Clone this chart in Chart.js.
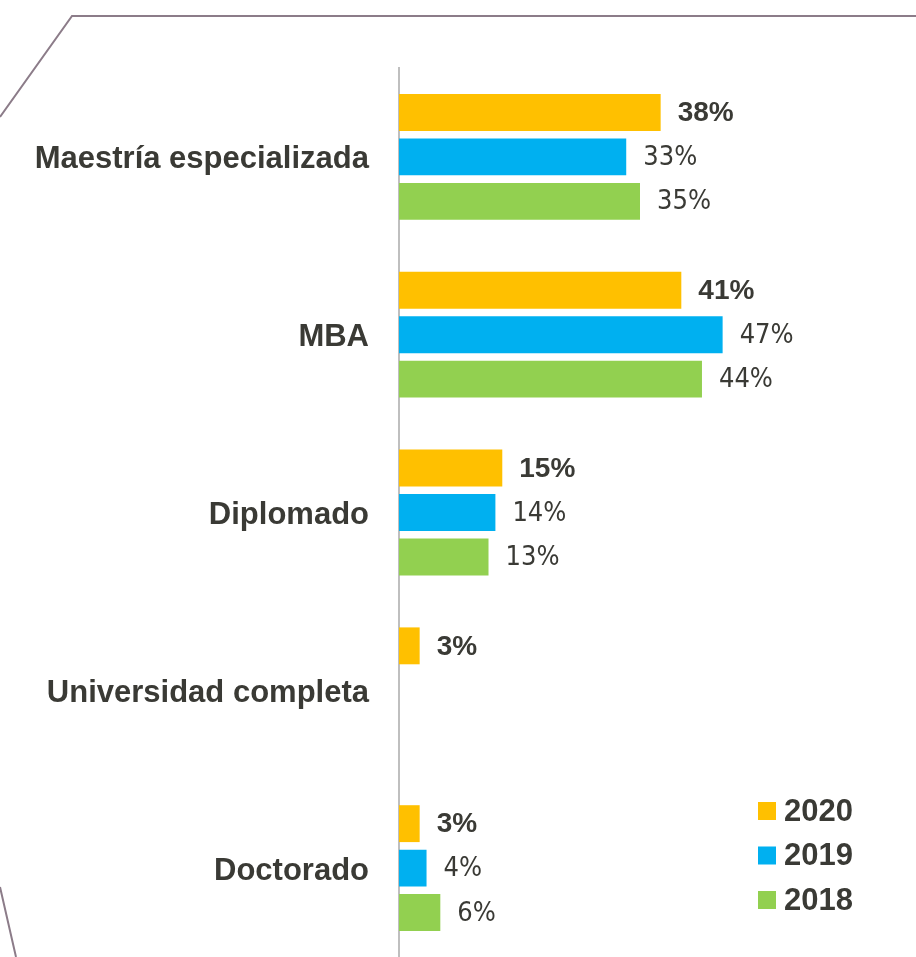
<!DOCTYPE html>
<html>
<head>
<meta charset="utf-8">
<script src="https://cdn.jsdelivr.net/npm/chart.js@4/dist/chart.umd.min.js"></script>
<style>
html,body{margin:0;padding:0;background:#fff;}
#wrap{width:916px;height:957px;position:relative;}
</style>
</head>
<body>
<div id="wrap"><canvas id="c" width="916" height="957"></canvas></div>
<script>
const categories = ["Maestría especializada", "MBA", "Diplomado", "Universidad completa", "Doctorado"];
const seriesNames = ["2020", "2019", "2018"];
const values2020 = [38, 41, 15, 3, 3];
const values2019 = [33, 47, 14, null, 4];
const values2018 = [35, 44, 13, null, 6];
const colors = ["#FFC000", "#00B0F0", "#92D050"];
const textColor = "#3a3a35";

const framePlugin = {
  id: 'frame',
  beforeDraw(chart) {
    const ctx = chart.ctx;
    ctx.save();
    ctx.strokeStyle = "#8c7c89";
    ctx.lineWidth = 2;
    ctx.beginPath();
    ctx.moveTo(0, 117);
    ctx.lineTo(72, 16);
    ctx.lineTo(916, 16);
    ctx.moveTo(0, 887);
    ctx.lineTo(16, 957);
    ctx.stroke();
    ctx.restore();
  }
};

const labelPlugin = {
  id: 'valueLabels',
  afterDatasetsDraw(chart) {
    const ctx = chart.ctx;
    ctx.save();
    ctx.fillStyle = textColor;
    ctx.textAlign = 'left';
    ctx.textBaseline = 'middle';
    chart.data.datasets.forEach((ds, i) => {
      const meta = chart.getDatasetMeta(i);
      ctx.font = i === 0 ? "bold 28px 'Liberation Sans', Arial, sans-serif"
                         : "27px 'Liberation Sans Narrow', 'DejaVu Sans Condensed', sans-serif";
      meta.data.forEach((bar, j) => {
        const v = ds.data[j];
        if (v === null || v === undefined) return;
        ctx.fillText(v + "%", bar.x + 17, bar.y + 1);
      });
    });
    ctx.restore();
  }
};

const legendPlugin = {
  id: 'customLegend',
  afterDraw(chart) {
    const ctx = chart.ctx;
    ctx.save();
    ctx.textAlign = 'left';
    ctx.textBaseline = 'middle';
    ctx.font = "bold 31px 'Liberation Sans', Arial, sans-serif";
    chart.data.datasets.forEach((ds, i) => {
      const y = 811 + i * 44.5;
      ctx.fillStyle = ds.backgroundColor;
      ctx.fillRect(758, y - 9, 18, 18);
      ctx.fillStyle = textColor;
      ctx.fillText(ds.label, 784, y + 1);
    });
    ctx.restore();
  }
};

const datasets = [values2020, values2019, values2018].map((vals, i) => ({
  label: seriesNames[i],
  data: vals,
  backgroundColor: colors[i],
  borderWidth: 0,
  categoryPercentage: 0.75,
  barPercentage: 0.83
}));

new Chart(document.getElementById('c'), {
  type: 'bar',
  data: { labels: categories, datasets },
  options: {
    responsive: false,
    animation: false,
    indexAxis: 'y',
    layout: { padding: { top: 68, right: 35, bottom: 0, left: 0 } },
    plugins: { legend: { display: false }, tooltip: { enabled: false } },
    scales: {
      x: { min: 0, max: 70, display: false, grid: { display: false } },
      y: {
        grid: { display: false, drawTicks: true, tickLength: 30, tickColor: 'rgba(0,0,0,0)' },
        border: { display: true, color: "#bfbfbf", width: 2 },
        ticks: {
          color: textColor,
          padding: 0,
          labelOffset: 3,
          font: { family: "'Liberation Sans', Arial, sans-serif", weight: 'bold', size: 31 }
        },
        afterFit(scale) {
          scale.width = 399;
          scale.paddingTop = 0;
          scale.paddingBottom = 0;
        }
      }
    }
  },
  plugins: [framePlugin, labelPlugin, legendPlugin]
});
</script>
</body>
</html>
